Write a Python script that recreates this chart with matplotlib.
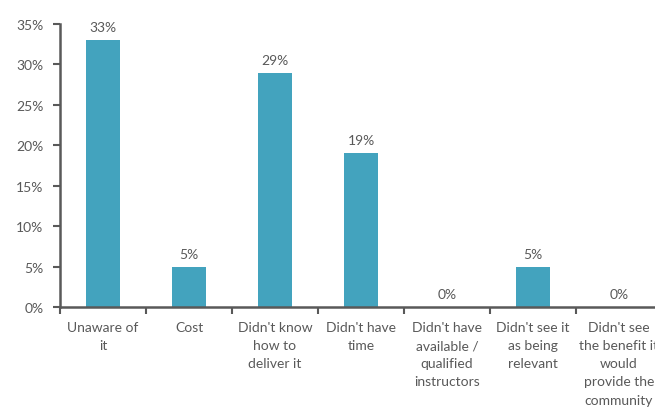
import numpy as np
import matplotlib
matplotlib.use("Agg")
from matplotlib import pyplot as plt
from matplotlib.ticker import FixedLocator, PercentFormatter

categories = [
    "Unaware of\nit",
    "Cost",
    "Didn't know\nhow to\ndeliver it",
    "Didn't have\ntime",
    "Didn't have\navailable /\nqualified\ninstructors",
    "Didn't see it\nas being\nrelevant",
    "Didn't see\nthe benefit it\nwould\nprovide the\ncommunity",
]
values = [33, 5, 29, 19, 0, 5, 0]

plt.rcParams['font.family'] = ['Lato', 'DejaVu Sans']
grey = '#595959'
bar_color = '#43A3BE'

fig = plt.figure(figsize=(6.55, 4.1), dpi=100)
# axis runs past the right edge of the canvas
ax = fig.add_axes([60 / 655, 102 / 410, 602 / 655, 283 / 410])

x = np.arange(len(categories))
ax.bar(x, values, width=0.4, color=bar_color)

for xi, v in zip(x, values):
    ax.annotate(f"{v}%", (xi, v), xytext=(0, 5), textcoords='offset points',
                ha='center', va='bottom', fontsize=10, color=grey)

ax.set_xlim(-0.5, len(categories) - 0.5)
ax.set_ylim(0, 35)
ax.set_yticks(np.arange(0, 36, 5))
ax.yaxis.set_major_formatter(PercentFormatter(decimals=0))

ax.set_xticks(x)
ax.set_xticklabels(categories, linespacing=1.62)
ax.xaxis.set_minor_locator(FixedLocator(np.arange(-0.5, len(categories), 1)))
ax.tick_params(axis='x', which='major', length=0, pad=10, labelsize=10, labelcolor=grey)
ax.tick_params(axis='x', which='minor', length=5, width=1.5, color=grey)
ax.tick_params(axis='y', length=5, width=1.5, color=grey, labelsize=10, labelcolor=grey, pad=7)

for side in ['top', 'right']:
    ax.spines[side].set_visible(False)
for side in ['left', 'bottom']:
    ax.spines[side].set_color(grey)
    ax.spines[side].set_linewidth(1.8)

fig.savefig('out.png', dpi=100)
